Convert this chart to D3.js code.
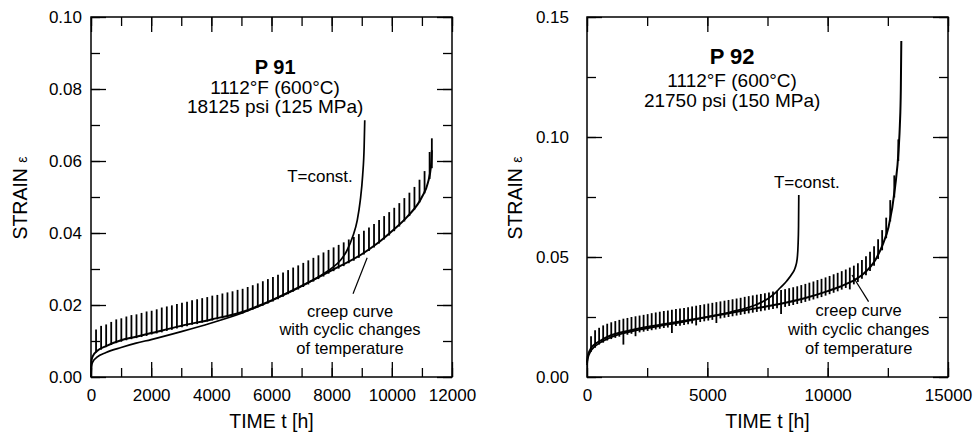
<!DOCTYPE html>
<html>
<head>
<meta charset="utf-8">
<script src="https://cdn.jsdelivr.net/npm/d3@7"></script>
<style>
  body { margin: 0; background: #fff; }
  text { font-family: "Liberation Sans", Arial, sans-serif; fill: #000; }
</style>
</head>
<body>
<svg id="chart" width="974" height="432"></svg>
<script>
// ---- P 91 : 600 C, 125 MPa ----
var p91ConstT = [0, 15, 60, 200, 500, 1000, 1500, 2000, 3000, 4000, 5000, 6000, 7000, 7500, 8000, 8300, 8500, 8700, 8850, 8950, 9030, 9080, 9100];
var p91ConstE = [0, .0030, .0042, .0055, .0068, .0082, .0094, .0104, .0126, .0150, .0177, .0212, .0252, .0275, .0302, .0325, .0350, .0390, .0435, .0490, .0560, .0640, .0713];

var p91CycT = [0, 15, 60, 200, 500, 1000, 1500, 2000, 3000, 4000, 5000, 6000, 7000, 8000, 9000, 9500, 10000, 10500, 11000, 11200, 11300, 11330];
var p91CycE = [0, .0045, .0058, .0072, .0086, .0102, .0112, .0122, .0142, .0160, .0180, .0213, .0253, .0296, .0341, .0370, .0405, .0444, .0500, .0540, .0585, .0630];

// temperature cycles (one spike per cycle): time, lowest and highest strain
var p91SpikeT = [168, 336, 504, 672, 840, 1008, 1176, 1344, 1512, 1680, 1848, 2016, 2184, 2352, 2520, 2688, 2856, 3024, 3192, 3360,
  3528, 3696, 3864, 4032, 4200, 4368, 4536, 4704, 4872, 5040, 5208, 5376, 5544, 5712, 5880, 6048, 6216, 6384, 6552, 6720,
  6888, 7056, 7224, 7392, 7560, 7728, 7896, 8064, 8232, 8400, 8568, 8736, 8904, 9072, 9240, 9408, 9576, 9744, 9912, 10080,
  10248, 10416, 10584, 10752, 10920, 11088, 11256, 11330];
var p91SpikeLo = [.0068, .0076, .0083, .0089, .0094, .0098, .0102, .0105, .0108, .0111, .0114, .0118, .0121, .0124, .0128, .0131, .0135, .0138, .0141, .0145,
  .0147, .0151, .0154, .0157, .0160, .0163, .0166, .0170, .0173, .0176, .0182, .0187, .0193, .0198, .0204, .0210, .0216, .0223, .0230, .0237,
  .0243, .0250, .0257, .0265, .0272, .0279, .0287, .0294, .0301, .0308, .0316, .0323, .0331, .0340, .0350, .0360, .0371, .0382, .0393, .0405,
  .0418, .0432, .0447, .0465, .0485, .0510, .0550, .0580];
var p91SpikeHi = [.0132, .0142, .0146, .0153, .0160, .0163, .0168, .0172, .0174, .0178, .0182, .0184, .0188, .0193, .0196, .0199, .0203, .0206, .0209, .0213,
  .0216, .0219, .0222, .0226, .0228, .0232, .0235, .0238, .0242, .0245, .0250, .0255, .0260, .0266, .0272, .0278, .0284, .0290, .0297, .0304,
  .0310, .0317, .0324, .0331, .0338, .0346, .0353, .0360, .0367, .0374, .0382, .0389, .0397, .0406, .0415, .0425, .0436, .0447, .0458, .0470,
  .0483, .0497, .0512, .0528, .0548, .0572, .0625, .0663];

// ---- P 92 : 600 C, 150 MPa ----
var p92ConstT = [0, 30, 140, 300, 500, 1000, 2000, 3000, 4000, 5000, 6000, 7000, 7500, 7800, 8030, 8300, 8520, 8650, 8730, 8770, 8790, 8800];
var p92ConstE = [.0050, .0075, .0105, .0125, .0140, .0166, .0193, .0212, .0230, .0250, .0272, .0300, .0325, .0348, .0372, .0400, .0430, .0455, .0490, .0550, .0630, .0758];

var p92CycT = [0, 30, 140, 300, 500, 1000, 1500, 2000, 3000, 4000, 5000, 6000, 7000, 8000, 9000, 10000, 10500, 11000, 11500, 12000, 12300, 12530, 12800, 12950, 13000, 13040, 13060];
var p92CycE = [.0060, .0085, .0115, .0135, .0148, .0174, .0188, .0199, .0217, .0233, .0250, .0268, .0286, .0304, .0327, .0358, .0376, .0398, .0431, .0491, .0555, .0625, .0790, .0950, .1050, .1200, .1400];

var p92SpikeT = [168, 336, 504, 672, 840, 1008, 1176, 1344, 1512, 1680, 1848, 2016, 2184, 2352, 2520, 2688, 2856, 3024, 3192, 3360,
  3528, 3696, 3864, 4032, 4200, 4368, 4536, 4704, 4872, 5040, 5208, 5376, 5544, 5712, 5880, 6048, 6216, 6384, 6552, 6720,
  6888, 7056, 7224, 7392, 7560, 7728, 7896, 8064, 8232, 8400, 8568, 8736, 8904, 9072, 9240, 9408, 9576, 9744, 9912, 10080,
  10248, 10416, 10584, 10752, 10920, 11088, 11256, 11424, 11592, 11760, 11928, 12096, 12264, 12432, 12600, 12768, 12936];
var p92SpikeLo = [.0105, .0122, .0135, .0143, .0152, .0158, .0163, .0168, .0135, .0176, .0180, .0170, .0186, .0189, .0192, .0195, .0198, .0201, .0204, .0206,
  .0183, .0212, .0214, .0217, .0220, .0223, .0215, .0229, .0232, .0235, .0238, .0225, .0244, .0247, .0250, .0253, .0256, .0259, .0262, .0265,
  .0268, .0271, .0274, .0277, .0280, .0283, .0286, .0262, .0292, .0296, .0300, .0304, .0308, .0313, .0318, .0323, .0328, .0333, .0339, .0345,
  .0351, .0357, .0364, .0371, .0365, .0386, .0396, .0409, .0424, .0442, .0464, .0492, .0528, .0578, .0648, .0748, .0900];
var p92SpikeHi = [.0170, .0195, .0205, .0215, .0222, .0228, .0233, .0238, .0243, .0246, .0250, .0253, .0256, .0259, .0262, .0266, .0269, .0272, .0275, .0277,
  .0280, .0283, .0285, .0288, .0291, .0294, .0297, .0300, .0303, .0306, .0309, .0312, .0315, .0318, .0321, .0324, .0327, .0330, .0334, .0337,
  .0340, .0343, .0346, .0349, .0352, .0356, .0359, .0362, .0366, .0370, .0374, .0378, .0383, .0388, .0393, .0398, .0404, .0409, .0415, .0421,
  .0428, .0434, .0441, .0448, .0456, .0464, .0474, .0488, .0503, .0522, .0545, .0574, .0612, .0664, .0737, .0840, .0990];

var svg = d3.select("#chart");
var font = "'Liberation Sans', Arial, sans-serif";

function drawPanel(p) {
  var x = d3.scaleLinear().domain([0, p.xMax]).range([p.left, p.right]);
  var y = d3.scaleLinear().domain([0, p.yMax]).range([p.bottom, p.top]);
  var g = svg.append("g");

  var xMinor = d3.range(0, p.xMax + 1, p.xMinor);
  var xMajor = d3.range(0, p.xMax + 1, p.xMajor);
  var yMinor = d3.range(0, Math.round(p.yMax / p.yMinor) + 1).map(function(i) { return i * p.yMinor; });
  var yMajor = d3.range(0, Math.round(p.yMax / p.yMajor) + 1).map(function(i) { return i * p.yMajor; });

  function clean(sel) {
    sel.select(".domain").remove();
    sel.selectAll(".tick line").attr("stroke", "#000").attr("stroke-width", 1.3);
    sel.attr("font-family", font).attr("font-size", 17);
  }

  // minor ticks on all four sides
  g.append("g").attr("transform", "translate(0," + p.bottom + ")")
    .call(d3.axisBottom(x).tickValues(xMinor).tickSize(-9).tickFormat("")).call(clean);
  g.append("g").attr("transform", "translate(0," + p.top + ")")
    .call(d3.axisTop(x).tickValues(xMinor).tickSize(-9).tickFormat("")).call(clean);
  g.append("g").attr("transform", "translate(" + p.left + ",0)")
    .call(d3.axisLeft(y).tickValues(yMinor).tickSize(-9).tickFormat("")).call(clean);
  g.append("g").attr("transform", "translate(" + p.right + ",0)")
    .call(d3.axisRight(y).tickValues(yMinor).tickSize(-9).tickFormat("")).call(clean);

  // major ticks with labels
  g.append("g").attr("transform", "translate(0," + p.bottom + ")")
    .call(d3.axisBottom(x).tickValues(xMajor).tickSize(-15).tickPadding(12).tickFormat(d3.format("d"))).call(clean);
  g.append("g").attr("transform", "translate(0," + p.top + ")")
    .call(d3.axisTop(x).tickValues(xMajor).tickSize(-15).tickFormat("")).call(clean);
  g.append("g").attr("transform", "translate(" + p.left + ",0)")
    .call(d3.axisLeft(y).tickValues(yMajor).tickSize(-15).tickPadding(p.yPad).tickFormat(d3.format(".2f"))).call(clean);
  g.append("g").attr("transform", "translate(" + p.right + ",0)")
    .call(d3.axisRight(y).tickValues(yMajor).tickSize(-15).tickFormat("")).call(clean);

  // frame
  g.append("rect")
    .attr("x", p.left).attr("y", p.top)
    .attr("width", p.right - p.left).attr("height", p.bottom - p.top)
    .attr("fill", "none").attr("stroke", "#000").attr("stroke-width", 1.5);

  var line = d3.line()
    .x(function(d) { return x(d[0]); })
    .y(function(d) { return y(d[1]); })
    .curve(d3.curveMonotoneX);

  // spikes of the cyclic test
  g.append("g").selectAll("line")
    .data(d3.zip(p.spikeT, p.spikeLo, p.spikeHi))
    .join("line")
    .attr("x1", function(d) { return x(d[0]); })
    .attr("x2", function(d) { return x(d[0]); })
    .attr("y1", function(d) { return y(d[1]); })
    .attr("y2", function(d) { return y(d[2]); })
    .attr("stroke", "#000").attr("stroke-width", 1.8);

  g.append("path").datum(d3.zip(p.cycT, p.cycE)).attr("d", line)
    .attr("fill", "none").attr("stroke", "#000").attr("stroke-width", 2);
  g.append("path").datum(d3.zip(p.constT, p.constE)).attr("d", line)
    .attr("fill", "none").attr("stroke", "#000").attr("stroke-width", 1.7);

  // annotations (placed in data units)
  var a = p.notes;
  g.append("text").attr("x", x(a.title[0])).attr("y", y(a.title[1]))
    .attr("text-anchor", "middle").attr("font-weight", "bold").attr("font-size", p.titleSize)
    .text(p.name);
  a.cond.forEach(function(s, i) {
    g.append("text").attr("x", x(a.title[0])).attr("y", y(a.condY[i]))
      .attr("text-anchor", "middle").attr("font-size", 19).text(s);
  });
  g.append("text").attr("x", x(a.tconst[0])).attr("y", y(a.tconst[1]))
    .attr("font-size", 17).text("T=const.");
  ["creep curve", "with cyclic changes", "of temperature"].forEach(function(s, i) {
    g.append("text").attr("x", x(a.creep[0])).attr("y", y(a.creepY[i]))
      .attr("text-anchor", "middle").attr("font-size", 16.5).text(s);
  });
  g.append("line")
    .attr("x1", x(a.leader[0])).attr("y1", y(a.leader[1]))
    .attr("x2", x(a.leader[2])).attr("y2", y(a.leader[3]))
    .attr("stroke", "#000").attr("stroke-width", 1.2);

  // axis titles
  g.append("text").attr("x", (p.left + p.right) / 2).attr("y", 428)
    .attr("text-anchor", "middle").attr("font-size", 19.5).text("TIME t [h]");
  var yt = g.append("text")
    .attr("transform", "translate(" + p.yTitleX + "," + ((p.top + p.bottom) / 2 + 1) + ") rotate(-90)")
    .attr("text-anchor", "middle").attr("font-size", 19.5);
  yt.append("tspan").text("STRAIN ");
  yt.append("tspan").attr("font-size", 14).text("ε");
}

drawPanel({
  name: "P 91", titleSize: 20,
  left: 91, right: 452, top: 17, bottom: 377,
  xMax: 12000, xMinor: 1000, xMajor: 2000,
  yMax: 0.10, yMinor: 0.01, yMajor: 0.02, yPad: 9, yTitleX: 27,
  constT: p91ConstT, constE: p91ConstE, cycT: p91CycT, cycE: p91CycE,
  spikeT: p91SpikeT, spikeLo: p91SpikeLo, spikeHi: p91SpikeHi,
  notes: {
    title: [6120, 0.0842],
    cond: ["1112°F (600°C)", "18125 psi (125 MPa)"], condY: [0.0786, 0.0733],
    tconst: [6520, 0.0542],
    creep: [8610], creepY: [0.01667, 0.01153, 0.00639],
    leader: [8710, 0.0231, 9180, 0.0331]
  }
});

drawPanel({
  name: "P 92", titleSize: 22,
  left: 587, right: 948, top: 17, bottom: 377,
  xMax: 15000, xMinor: 2500, xMajor: 5000,
  yMax: 0.15, yMinor: 0.025, yMajor: 0.05, yPad: 18, yTitleX: 522,
  constT: p92ConstT, constE: p92ConstE, cycT: p92CycT, cycE: p92CycE,
  spikeT: p92SpikeT, spikeLo: p92SpikeLo, spikeHi: p92SpikeHi,
  notes: {
    title: [6030, 0.1304],
    cond: ["1112°F (600°C)", "21750 psi (150 MPa)"], condY: [0.1208, 0.1125],
    tconst: [7770, 0.0787],
    creep: [11290], creepY: [0.02521, 0.0175, 0.00979],
    leader: [11700, 0.0314, 11010, 0.0425]
  }
});
</script>
</body>
</html>
